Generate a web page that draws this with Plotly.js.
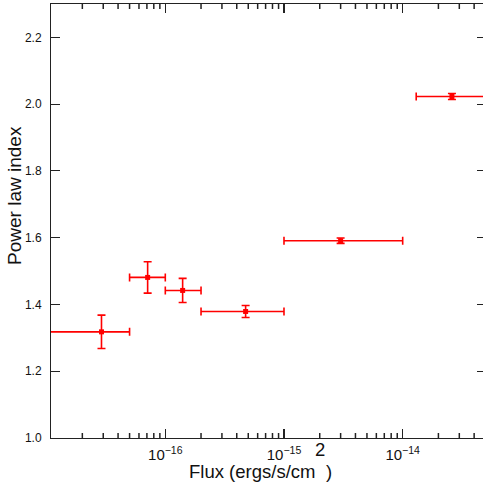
<!DOCTYPE html>
<html>
<head>
<meta charset="utf-8">
<script src="https://cdn.plot.ly/plotly-3.0.1.min.js"></script>
<style>
html, body { margin: 0; padding: 0; overflow: hidden; background: #fff; }
#chart { width: 486px; height: 485px; }
</style>
</head>
<body>
<div id="chart"></div>
<script>
// Data
const flux      = [2.9e-17, 7.1e-17, 1.4e-16, 4.75e-16, 3.0e-15, 2.6e-14];
const fluxLow   = [1.0e-17, 5.0e-17, 1.0e-16, 2.0e-16, 1.0e-15, 1.3e-14];
const fluxHigh  = [5.0e-17, 1.0e-16, 2.0e-16, 1.0e-15, 1.0e-14, 1.0e-13];
const plIndex   = [1.318, 1.481, 1.442, 1.379, 1.591, 2.023];
const plErr     = [0.050, 0.047, 0.036, 0.018, 0.008, 0.009];

// Tick positions on the log axis: decades (major) and 2..9 of each decade (minor)
const decades   = [1e-17, 1e-16, 1e-15, 1e-14];
const digits    = [2, 3, 4, 5, 6, 7, 8, 9];

const xTitleMain = 'Flux (ergs/s/cm';
const xTitleSup  = '2';
const xTitleEnd  = ')';
const yTitle = 'Power law index';

const errPlus  = fluxHigh.map((h, i) => h - flux[i]);
const errMinus = fluxLow.map((l, i) => flux[i] - l);

const red = '#ff0000';
const axisCol = '#222222';
const textCol = '#111111';
const fontFam = '"Liberation Sans", Arial, sans-serif';
const xRange = [-16.963, -13.298];
const yRange = [1.0, 2.3];
const plotH = 434;
const yPerPx = (yRange[1] - yRange[0]) / plotH;

const trace = {
  x: flux,
  y: plIndex,
  type: 'scatter',
  mode: 'markers',
  marker: { symbol: 'square', size: 5, color: red },
  error_x: { type: 'data', array: errPlus, arrayminus: errMinus, color: red, thickness: 1.6, width: 4 },
  error_y: { type: 'data', array: plErr, arrayminus: plErr, color: red, thickness: 1.6, width: 4 },
  hoverinfo: 'none'
};

// inside minor x ticks on bottom and (mirrored) top axis, as short segments on the axes' own scales
const tickX = [], tickY = [];
function addTick(v, lenPx) {
  const lv = Math.log10(v);
  if (lv <= xRange[0] || lv >= xRange[1]) return;
  const dy = lenPx * yPerPx;
  tickX.push(v, v, null, v, v, null);
  tickY.push(yRange[0], yRange[0] + dy, null, yRange[1], yRange[1] - dy, null);
}
decades.forEach(d => digits.forEach(k => addTick(k * d, 5)));
const ticksTrace = {
  x: tickX, y: tickY,
  type: 'scatter', mode: 'lines',
  line: { color: axisCol, width: 1.5 },
  connectgaps: false,
  hoverinfo: 'none'
};

const layout = {
  width: 486,
  height: 485,
  margin: { l: 51, r: 0, t: 4, b: 47, pad: 0 },
  paper_bgcolor: '#ffffff',
  plot_bgcolor: '#ffffff',
  showlegend: false,
  font: { family: fontFam, size: 12, color: textCol },
  xaxis: {
    type: 'log',
    range: xRange,
    dtick: 1,
    exponentformat: 'power',
    showgrid: false,
    zeroline: false,
    showline: true,
    linecolor: axisCol,
    linewidth: 1,
    mirror: 'ticks',
    ticks: 'inside',
    ticklen: 9,
    tickwidth: 1.5,
    tickcolor: axisCol,
    ticklabelstandoff: 4,
    tickfont: { family: fontFam, size: 12, color: textCol }
  },
  yaxis: {
    range: yRange,
    tick0: 1.0,
    dtick: 0.2,
    tickformat: '.1f',
    showgrid: false,
    zeroline: false,
    showline: true,
    linecolor: axisCol,
    linewidth: 1,
    mirror: 'ticks',
    ticks: 'inside',
    ticklen: 9,
    tickwidth: 1,
    tickcolor: axisCol,
    ticklabelstandoff: 6,
    tickfont: { family: fontFam, size: 12, color: textCol }
  },
  annotations: [
    {
      text: yTitle, xref: 'paper', yref: 'paper',
      x: -0.0828, y: 0.56, xanchor: 'center', yanchor: 'middle',
      textangle: -90, showarrow: false,
      font: { family: fontFam, size: 19, color: textCol }
    },
    {
      text: xTitleMain, xref: 'paper', yref: 'paper',
      x: (316 - 51) / 435, y: -(483 - 438) / plotH, xanchor: 'right', yanchor: 'bottom',
      showarrow: false, borderpad: 0,
      font: { family: fontFam, size: 18.5, color: textCol }
    },
    {
      text: xTitleSup, xref: 'paper', yref: 'paper',
      x: (314 - 51) / 435, y: -(461 - 438) / plotH, xanchor: 'left', yanchor: 'bottom',
      showarrow: false, borderpad: 0,
      font: { family: fontFam, size: 18.5, color: textCol }
    },
    {
      text: xTitleEnd, xref: 'paper', yref: 'paper',
      x: (324.5 - 51) / 435, y: -(483 - 438) / plotH, xanchor: 'left', yanchor: 'bottom',
      showarrow: false, borderpad: 0,
      font: { family: fontFam, size: 18.5, color: textCol }
    }
  ]
};

Plotly.newPlot('chart', [ticksTrace, trace], layout, { displayModeBar: false, staticPlot: true });
</script>
</body>
</html>
